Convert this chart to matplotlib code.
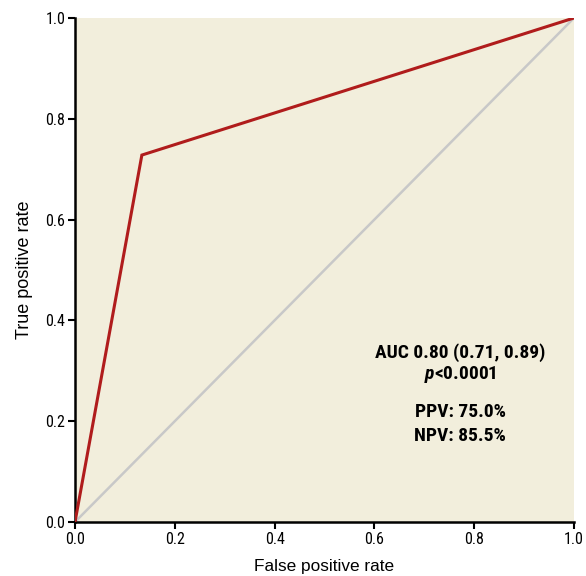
import matplotlib
matplotlib.use("Agg")
import matplotlib.pyplot as plt

fpr = [0.0, 0.134, 1.0]
tpr = [0.0, 0.728, 1.0]
ref_x = [0.0, 1.0]
ref_y = [0.0, 1.0]
ticks = [0.0, 0.2, 0.4, 0.6, 0.8, 1.0]
tick_labels = ["0.0", "0.2", "0.4", "0.6", "0.8", "1.0"]
notes = ["AUC 0.80 (0.71, 0.89)", "PPV: 75.0%", "NPV: 85.5%"]

COND = ["Roboto Condensed", "DejaVu Sans"]

plt.rcParams["mathtext.fontset"] = "custom"
plt.rcParams["mathtext.it"] = "Roboto Condensed:italic:bold"
plt.rcParams["mathtext.rm"] = "Roboto Condensed:bold"

fig = plt.figure(figsize=(5.86, 5.76), dpi=100)
ax = fig.add_axes([0.128, 0.0938, 0.8515, 0.875])
ax.set_facecolor("#f2eedc")

ax.plot(ref_x, ref_y, color="#c8c8c8", lw=1.8, zorder=2)
ax.plot(fpr, tpr, color="#b01c1c", lw=2.2, zorder=3, solid_joinstyle="miter")

ax.set_xlim(0, 1)
ax.set_ylim(0, 1)
ax.set_xticks(ticks)
ax.set_yticks(ticks)
ax.set_xticklabels(tick_labels, family=COND, fontsize=11.5)
ax.set_yticklabels(tick_labels, family=COND, fontsize=11.5)
ax.tick_params(direction="out", length=5, width=1.5, color="black", pad=2)

for side in ("top", "right"):
    ax.spines[side].set_visible(False)
for side in ("left", "bottom"):
    ax.spines[side].set_linewidth(1.8)

ax.set_xlabel("False positive rate", family="Liberation Sans", fontsize=12.4, labelpad=9)
ax.set_ylabel("True positive rate", family="Liberation Sans", fontsize=13, labelpad=9)

tx = 0.772
style = dict(ha="center", va="center", family=COND, fontweight="bold", fontsize=14)
ax.text(tx, 0.337, notes[0], **style)
ax.text(tx, 0.292, r"$p$<0.0001", **style)
ax.text(tx, 0.218, notes[1], **style)
ax.text(tx, 0.171, notes[2], **style)

fig.savefig("out.png", dpi=100)
